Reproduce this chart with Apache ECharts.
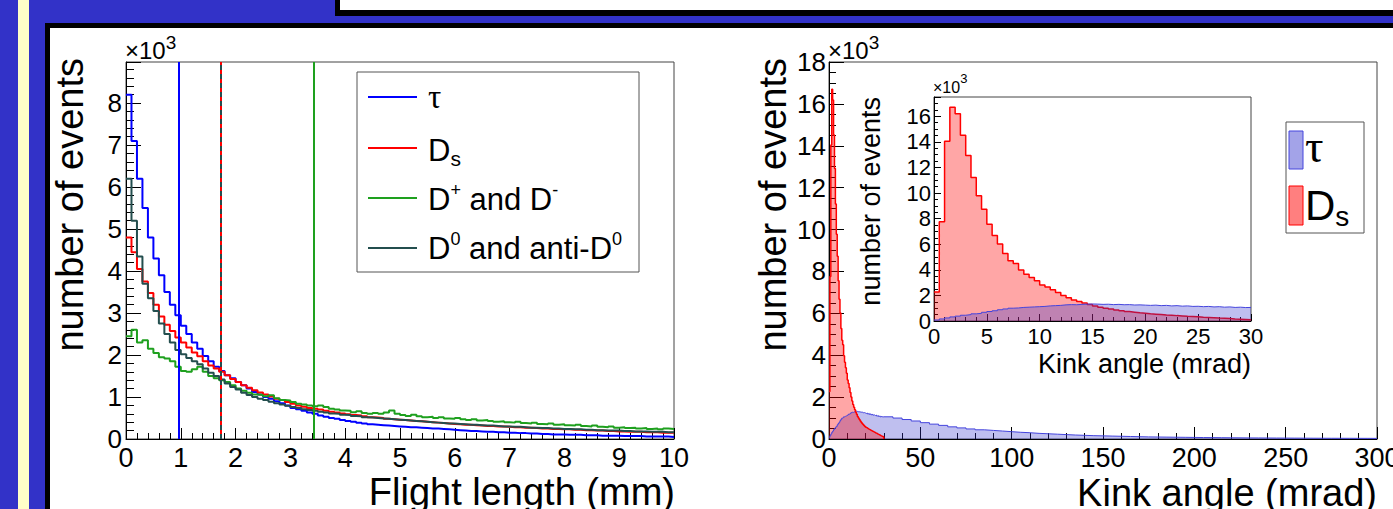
<!DOCTYPE html>
<html>
<head>
<meta charset="utf-8">
<script src="https://cdn.jsdelivr.net/npm/echarts@6/dist/echarts.min.js"></script>
<style>
  html, body { margin: 0; padding: 0; background: #3232c8; }
  #chart { width: 1393px; height: 509px; }
</style>
</head>
<body>
<div id="chart"></div>
<script>
  // ---- left: flight length (mm), bins of 0.1 mm, values in 10^3 events
  const flightBin = 0.1;
  const flightTau = [
    8.2, 7.1, 6.2, 5.5, 4.8, 4.3, 3.9, 3.5, 3.2, 2.95,
    2.7, 2.5, 2.3, 2.15, 1.98, 1.85, 1.72, 1.62, 1.52, 1.45,
    1.36, 1.28, 1.2, 1.12, 1.06, 1.0, 0.96, 0.9, 0.85, 0.8,
    0.74, 0.71, 0.67, 0.63, 0.6, 0.56, 0.53, 0.5, 0.48, 0.45,
    0.43, 0.41, 0.39, 0.37, 0.35, 0.34, 0.33, 0.32, 0.31, 0.3,
    0.29, 0.28, 0.28, 0.27, 0.26, 0.25, 0.25, 0.24, 0.23, 0.22,
    0.21, 0.2, 0.19, 0.19, 0.18, 0.17, 0.17, 0.16, 0.16, 0.15,
    0.15, 0.14, 0.14, 0.13, 0.13, 0.12, 0.12, 0.11, 0.11, 0.11,
    0.1, 0.1, 0.1, 0.09, 0.09, 0.09, 0.08, 0.08, 0.08, 0.08,
    0.07, 0.07, 0.07, 0.07, 0.06, 0.06, 0.06, 0.06, 0.06, 0.05
  ];
  const flightDs = [
    4.8, 4.45, 4.05, 3.75, 3.48, 3.2, 2.92, 2.72, 2.57, 2.42,
    2.3, 2.18, 2.06, 1.97, 1.85, 1.75, 1.68, 1.6, 1.52, 1.43,
    1.36, 1.28, 1.22, 1.16, 1.11, 1.06, 1.01, 0.96, 0.93, 0.88,
    0.84, 0.8, 0.77, 0.74, 0.72, 0.7, 0.67, 0.65, 0.63, 0.61,
    0.59, 0.57, 0.56, 0.54, 0.52, 0.51, 0.5, 0.48, 0.47, 0.46,
    0.45, 0.44, 0.43, 0.42, 0.41, 0.4, 0.39, 0.38, 0.37, 0.36,
    0.35, 0.34, 0.34, 0.33, 0.32, 0.31, 0.31, 0.3, 0.3, 0.29,
    0.28, 0.28, 0.27, 0.27, 0.26, 0.25, 0.25, 0.24, 0.24, 0.23,
    0.23, 0.22, 0.22, 0.21, 0.21, 0.2, 0.2, 0.19, 0.19, 0.18,
    0.18, 0.17, 0.17, 0.17, 0.16, 0.16, 0.16, 0.15, 0.15, 0.15
  ];
  const flightDplus = [
    2.45, 2.6, 2.3, 2.35, 2.15, 2.05, 1.95, 1.92, 1.85, 1.72,
    1.62, 1.6, 1.66, 1.72, 1.6, 1.5, 1.45, 1.4, 1.36, 1.28,
    1.2, 1.15, 1.1, 1.06, 1.05, 1.02, 1.04, 0.97, 0.93, 0.92,
    0.88, 0.84, 0.82, 0.8, 0.78, 0.8, 0.76, 0.72, 0.7, 0.68,
    0.67, 0.64, 0.66, 0.62, 0.6, 0.62, 0.6, 0.63, 0.68, 0.6,
    0.57, 0.55, 0.58, 0.54, 0.52, 0.53, 0.5, 0.52, 0.49, 0.48,
    0.5, 0.47, 0.45, 0.47, 0.44, 0.45, 0.43, 0.41, 0.42, 0.4,
    0.39, 0.41, 0.38, 0.37, 0.39, 0.36, 0.35, 0.37, 0.34, 0.35,
    0.33, 0.32, 0.34, 0.31, 0.3, 0.32, 0.29, 0.28, 0.3, 0.27,
    0.28, 0.26, 0.27, 0.25, 0.26, 0.24, 0.25, 0.23, 0.25, 0.24
  ];
  const flightD0 = [
    6.2, 5.2, 4.35, 3.7, 3.35, 3.05, 2.75, 2.5, 2.3, 2.12,
    2.02, 1.93, 1.85, 1.78, 1.68, 1.58, 1.5, 1.42, 1.32, 1.24,
    1.18, 1.1, 1.05, 1.0, 0.96, 0.93, 0.89, 0.85, 0.82, 0.79,
    0.76, 0.74, 0.71, 0.69, 0.67, 0.65, 0.63, 0.61, 0.6, 0.58,
    0.57, 0.55, 0.54, 0.52, 0.51, 0.5, 0.49, 0.48, 0.47, 0.46,
    0.45, 0.44, 0.43, 0.42, 0.41, 0.4, 0.39, 0.38, 0.37, 0.37,
    0.36, 0.35, 0.34, 0.34, 0.33, 0.32, 0.32, 0.31, 0.3, 0.3,
    0.29, 0.29, 0.28, 0.27, 0.27, 0.26, 0.26, 0.25, 0.25, 0.24,
    0.24, 0.23, 0.23, 0.22, 0.22, 0.21, 0.21, 0.2, 0.2, 0.2,
    0.19, 0.19, 0.18, 0.18, 0.18, 0.17, 0.17, 0.17, 0.16, 0.16
  ];
  // mean flight lengths (vertical lines)
  const meanTau = 0.97;
  const meanDs = 1.72;
  const meanDplus = 3.42;
  const meanD0 = 1.72;

  // ---- right: kink angle (mrad), 0.5 mrad bins up to 30, then 5 mrad bins
  const kinkFineBin = 0.5;
  const kinkDs = [
    2.27, 7.76, 14.04, 16.7, 16.19, 14.51, 12.92, 11.22, 9.78, 8.73,
    7.56, 6.67, 6.01, 5.28, 4.71, 4.5, 3.98, 3.66, 3.4, 3.14,
    2.82, 2.65, 2.45, 2.22, 2.0, 1.82, 1.65, 1.52, 1.4, 1.28,
    1.18, 1.08, 1.0, 0.93, 0.86, 0.8, 0.74, 0.69, 0.64, 0.6,
    0.56, 0.53, 0.5, 0.47, 0.45, 0.42, 0.4, 0.37, 0.35, 0.33,
    0.3, 0.28, 0.26, 0.23, 0.21, 0.19, 0.16, 0.14, 0.12, 0.1
  ];
  const kinkTau = [
    0.08, 0.16, 0.24, 0.32, 0.38, 0.45, 0.5, 0.56, 0.6, 0.68,
    0.74, 0.8, 0.88, 0.94, 1.0, 1.02, 1.06, 1.08, 1.1, 1.12,
    1.14, 1.18, 1.2, 1.22, 1.26, 1.28, 1.27, 1.3, 1.32, 1.33,
    1.32, 1.3, 1.31, 1.28, 1.3, 1.27, 1.28, 1.25, 1.26, 1.24,
    1.22, 1.24, 1.2, 1.22, 1.18, 1.2, 1.16, 1.18, 1.14, 1.15,
    1.12, 1.14, 1.1, 1.12, 1.08, 1.1, 1.06, 1.08, 1.05, 1.06
  ];
  const kinkCoarseStart = 30;
  const kinkCoarseBin = 5;
  const kinkTauTail = [
    1.06, 1.0, 0.93, 0.86, 0.78, 0.71, 0.65, 0.58, 0.53, 0.48,
    0.44, 0.41, 0.38, 0.35, 0.32, 0.3, 0.27, 0.25, 0.23, 0.21,
    0.19, 0.175, 0.16, 0.15, 0.14, 0.13, 0.12, 0.11, 0.1, 0.095,
    0.09, 0.085, 0.08, 0.075, 0.07, 0.066, 0.062, 0.058, 0.055, 0.052,
    0.05, 0.048, 0.046, 0.044, 0.042, 0.04, 0.038, 0.036, 0.035, 0.034,
    0.033, 0.032, 0.031, 0.03
  ];

  const FONT = '"Liberation Sans", Arial, sans-serif';
  const SERIF = '"Liberation Serif", "DejaVu Serif", serif';

  // histogram -> step points [binLowEdge, value] + closing point
  function steps(parts, drop) {
    const pts = [];
    let end = 0, last = 0;
    parts.forEach(function (p) {
      p.values.forEach(function (v, i) { pts.push([p.start + i * p.width, v]); });
      end = p.start + p.values.length * p.width;
      last = p.values[p.values.length - 1];
    });
    pts.push([end, last]);
    if (drop) pts.push([end, 0]);
    return pts;
  }

  function axis(gridIndex, o) {
    return {
      gridIndex: gridIndex, type: 'value',
      min: o.min, max: o.max, interval: o.interval,
      axisLine: { show: true, onZero: false, lineStyle: { color: '#000', width: 1 } },
      axisTick: { show: true, inside: true, length: o.major, lineStyle: { color: '#000', width: 1 } },
      minorTick: { show: true, splitNumber: o.split, length: o.minor, lineStyle: { color: '#000', width: 1 } },
      splitLine: { show: false },
      minorSplitLine: { show: false },
      axisLabel: {
        color: '#000', fontFamily: FONT, fontSize: o.font, margin: o.margin,
        showMaxLabel: o.showMax,
        formatter: function (v) {
          const k = v / o.interval;
          return Math.abs(k - Math.round(k)) < 1e-6 ? String(Math.round(v)) : '';
        }
      }
    };
  }

  function hist(name, data, color, x, y, extra) {
    return Object.assign({
      name: name, type: 'line', xAxisIndex: x, yAxisIndex: y,
      data: data, step: 'end', symbol: 'none', silent: true,
      lineStyle: { color: color, width: 2 }
    }, extra || {});
  }

  function vline(xv, color, type) {
    return {
      symbol: 'none', silent: true, animation: false,
      label: { show: false },
      lineStyle: { color: color, width: 2, type: type || 'solid' },
      data: [{ xAxis: xv }]
    };
  }

  const gridBase = {
    show: true, backgroundColor: '#fff', borderColor: '#444', borderWidth: 1,
    containLabel: false, outerBoundsMode: 'none'
  };

  const richLegend = {
    m: { fontFamily: FONT, fontSize: 31, lineHeight: 37, fill: '#000' },
    t: { fontFamily: SERIF, fontSize: 33, lineHeight: 37, fill: '#000' },
    sup: { fontFamily: FONT, fontSize: 18, lineHeight: 18, verticalAlign: 'top', fill: '#000' },
    sub: { fontFamily: FONT, fontSize: 21, lineHeight: 21, verticalAlign: 'bottom', fill: '#000' }
  };

  function title(x, y, text, size, rotated) {
    return {
      type: 'text', x: x, y: y, z: 100, rotation: rotated ? Math.PI / 2 : 0,
      style: { text: text, fontFamily: FONT, fontSize: size, fill: '#000', align: 'right', verticalAlign: 'middle' }
    };
  }

  // "x10^3" multiplier above a y axis
  function power(x, y, size, supSize, lh) {
    return {
      type: 'text', x: x, y: y, z: 100,
      style: {
        text: '{a|\u00d710}{s|3}', align: 'left', verticalAlign: 'middle',
        rich: {
          a: { fontFamily: FONT, fontSize: size, lineHeight: lh, fill: '#000' },
          s: { fontFamily: FONT, fontSize: supSize, lineHeight: supSize, verticalAlign: 'top', fill: '#000' }
        }
      }
    };
  }

  const graphics = [
    // slide decoration
    { type: 'rect', z: -10, shape: { x: 18, y: 0, width: 11, height: 509 }, style: { fill: '#ffffc8' } },
    { type: 'rect', z: -10, shape: { x: 335, y: -10, width: 1100, height: 26 }, style: { fill: '#000' } },
    { type: 'rect', z: -9, shape: { x: 340, y: -10, width: 1100, height: 20 }, style: { fill: '#fff' } },
    { type: 'rect', z: -10, shape: { x: 45, y: 23, width: 1400, height: 520 }, style: { fill: '#000' } },
    { type: 'rect', z: -9, shape: { x: 50, y: 28, width: 1400, height: 520 }, style: { fill: '#fff' } },

    // axis titles
    title(70, 58, 'number of events', 38, true),
    title(675, 492, 'Flight length (mm)', 38, false),
    title(773, 58, 'number of events', 38, true),
    title(1377, 493, 'Kink angle (mrad)', 38, false),
    title(871, 97, 'number of events', 27, true),
    title(1251, 364, 'Kink angle (mrad)', 27, false),

    // x10^3 multipliers
    power(125, 50, 24, 19, 34),
    power(828, 50, 24, 19, 34),
    power(933, 87, 16, 13, 31),

    // left legend
    { type: 'rect', z: 90, shape: { x: 357, y: 72, width: 282, height: 200 }, style: { fill: '#fff', stroke: '#555', lineWidth: 1 } },
    { type: 'line', z: 91, shape: { x1: 368, y1: 97, x2: 417, y2: 97 }, style: { stroke: '#0000ff', lineWidth: 2 } },
    { type: 'line', z: 91, shape: { x1: 368, y1: 148, x2: 417, y2: 148 }, style: { stroke: '#ff0000', lineWidth: 2 } },
    { type: 'line', z: 91, shape: { x1: 368, y1: 198, x2: 417, y2: 198 }, style: { stroke: '#1ea01e', lineWidth: 2 } },
    { type: 'line', z: 91, shape: { x1: 368, y1: 248, x2: 417, y2: 248 }, style: { stroke: '#234e4e', lineWidth: 2 } },
    { type: 'text', z: 100, x: 428, y: 97, style: { text: '{t|\u03c4}', rich: richLegend, align: 'left', verticalAlign: 'middle' } },
    { type: 'text', z: 100, x: 428, y: 150, style: { text: '{m|D}{sub|s}', rich: richLegend, align: 'left', verticalAlign: 'middle' } },
    { type: 'text', z: 100, x: 428, y: 199, style: { text: '{m|D}{sup|+}{m| and D}{sup|-}', rich: richLegend, align: 'left', verticalAlign: 'middle' } },
    { type: 'text', z: 100, x: 428, y: 248, style: { text: '{m|D}{sup|0}{m| and anti-D}{sup|0}', rich: richLegend, align: 'left', verticalAlign: 'middle' } },

    // right legend
    { type: 'rect', z: 90, shape: { x: 1286, y: 122, width: 78, height: 111 }, style: { fill: '#fff', stroke: '#555', lineWidth: 1 } },
    { type: 'rect', z: 91, shape: { x: 1289, y: 131, width: 14, height: 38 }, style: { fill: 'rgba(51,51,204,0.45)', stroke: '#4444dd', lineWidth: 1 } },
    { type: 'rect', z: 91, shape: { x: 1289, y: 186, width: 14, height: 39 }, style: { fill: 'rgba(255,0,0,0.5)', stroke: '#ff0000', lineWidth: 1 } },
    { type: 'text', z: 100, x: 1305, y: 146, style: { text: '\u03c4', fontFamily: SERIF, fontSize: 46, fill: '#000', align: 'left', verticalAlign: 'middle' } },
    { type: 'text', z: 100, x: 1305, y: 205, style: {
      text: '{m|D}{sub|s}', align: 'left', verticalAlign: 'middle',
      rich: {
        m: { fontFamily: FONT, fontSize: 42, lineHeight: 50, fill: '#000' },
        sub: { fontFamily: FONT, fontSize: 28, lineHeight: 28, verticalAlign: 'bottom', fill: '#000' }
      } } }
  ];

  const chart = echarts.init(document.getElementById('chart'), null, { renderer: 'svg' });
  chart.setOption({
    animation: false,
    backgroundColor: '#3232c8',
    graphic: { elements: graphics },
    grid: [
      Object.assign({ left: 126, top: 62, width: 548, height: 377 }, gridBase),
      Object.assign({ left: 829, top: 62, width: 548, height: 377 }, gridBase),
      Object.assign({ left: 934, top: 97, width: 317, height: 224, z: 5 }, gridBase)
    ],
    xAxis: [
      axis(0, { min: 0, max: 10, interval: 1, split: 5, major: 11, minor: 6, font: 27, margin: 5, showMax: true }),
      axis(1, { min: 0, max: 300, interval: 50, split: 5, major: 12, minor: 6, font: 27, margin: 5, showMax: true }),
      Object.assign(axis(2, { min: 0, max: 30, interval: 5, split: 5, major: 7, minor: 4, font: 22, margin: 4, showMax: true }), { z: 6 })
    ],
    yAxis: [
      axis(0, { min: 0, max: 8.98, interval: 1, split: 5, major: 15, minor: 8, font: 26, margin: 4, showMax: false }),
      axis(1, { min: 0, max: 18, interval: 2, split: 4, major: 15, minor: 7, font: 26, margin: 3, showMax: true }),
      Object.assign(axis(2, { min: 0, max: 17.5, interval: 2, split: 4, major: 7, minor: 4, font: 22, margin: 3, showMax: false }), { z: 6 })
    ],
    series: [
      hist('tau', steps([{ start: 0, width: flightBin, values: flightTau }]), '#0000ff', 0, 0,
        { markLine: vline(meanTau, '#0000ff') }),
      hist('Ds', steps([{ start: 0, width: flightBin, values: flightDs }]), '#ff0000', 0, 0,
        { markLine: vline(meanDs, '#ff0000') }),
      hist('Dplus', steps([{ start: 0, width: flightBin, values: flightDplus }]), '#1ea01e', 0, 0,
        { markLine: vline(meanDplus, '#1ea01e') }),
      hist('D0', steps([{ start: 0, width: flightBin, values: flightD0 }]), '#234e4e', 0, 0,
        { markLine: vline(meanD0, '#234e4e', [5, 4]) }),

      // main kink-angle plot: tau underneath, Ds on top
      hist('tau kink', steps([
        { start: 0, width: kinkFineBin, values: kinkTau },
        { start: kinkCoarseStart, width: kinkCoarseBin, values: kinkTauTail }
      ]), '#4444dd', 1, 1, { lineStyle: { color: '#4444dd', width: 1 }, areaStyle: { color: 'rgba(51,51,204,0.45)' } }),
      hist('Ds kink', steps([{ start: 0, width: kinkFineBin, values: kinkDs }], true), '#ff0000', 1, 1,
        { lineStyle: { color: '#ff0000', width: 1.5 }, areaStyle: { color: 'rgba(255,0,0,0.5)' } }),

      // inset: Ds underneath, tau on top
      hist('Ds inset', steps([{ start: 0, width: kinkFineBin, values: kinkDs }]), '#ff0000', 2, 2,
        { z: 7, lineStyle: { color: '#ff0000', width: 1.5 }, areaStyle: { color: 'rgba(255,0,0,0.5)' } }),
      hist('tau inset', steps([{ start: 0, width: kinkFineBin, values: kinkTau }]), '#4444dd', 2, 2,
        { z: 8, lineStyle: { color: '#4444dd', width: 1 }, areaStyle: { color: 'rgba(51,51,204,0.45)' } })
    ]
  });
</script>
</body>
</html>
